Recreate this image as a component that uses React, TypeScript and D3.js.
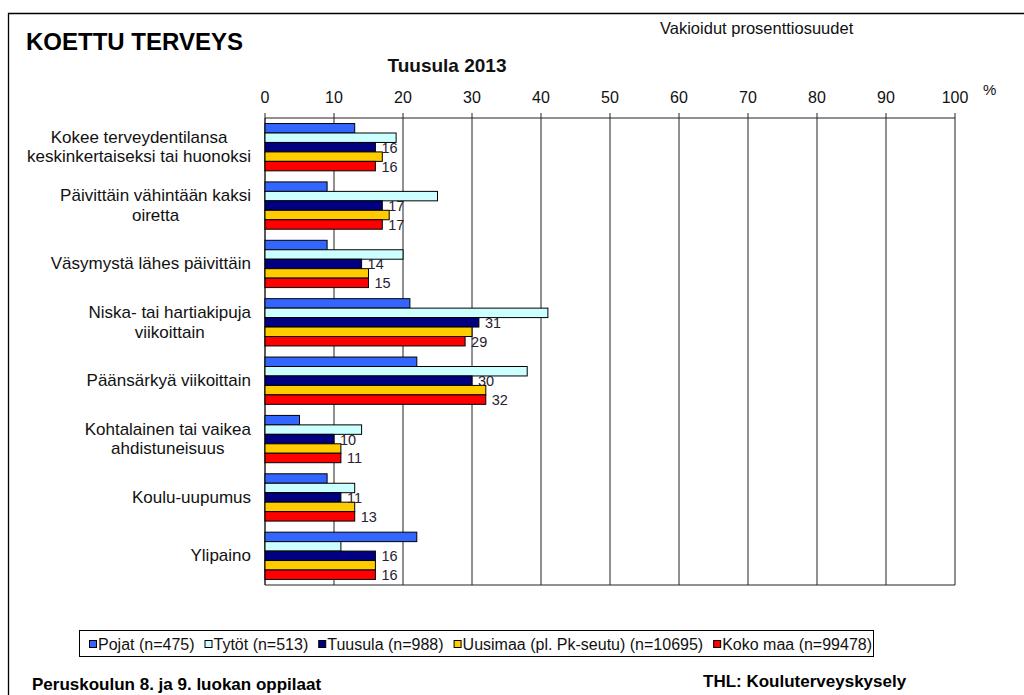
import React from 'react';
import * as d3 from 'd3';

// categories, top to bottom (lines split where the original wraps)
const categories = [
  ['Kokee terveydentilansa', 'keskinkertaiseksi tai huonoksi'],
  ['Päivittäin vähintään kaksi', 'oiretta'],
  ['Väsymystä lähes päivittäin'],
  ['Niska- tai hartiakipuja', 'viikoittain'],
  ['Päänsärkyä viikoittain'],
  ['Kohtalainen tai vaikea', 'ahdistuneisuus'],
  ['Koulu-uupumus'],
  ['Ylipaino'],
];

const seriesNames = ['Pojat (n=475)', 'Tytöt (n=513)', 'Tuusula (n=988)', 'Uusimaa (pl. Pk-seutu) (n=10695)', 'Koko maa (n=99478)'];
const seriesColors = ['#3366ff', '#ccffff', '#000080', '#ffcc00', '#ff0000'];
// which series get a value label
const labelled = [false, false, true, false, true];

const pojat = [13, 9, 9, 21, 22, 5, 9, 22];
const tytot = [19, 25, 20, 41, 38, 14, 13, 11];
const tuusula = [16, 17, 14, 31, 30, 10, 11, 16];
const uusimaa = [17, 18, 15, 30, 32, 11, 13, 16];
const kokoMaa = [16, 17, 15, 29, 32, 11, 13, 16];
const series = [pojat, tytot, tuusula, uusimaa, kokoMaa];

const xTicks = [0, 10, 20, 30, 40, 50, 60, 70, 80, 90, 100];

const FONT = '"Liberation Sans", Arial, sans-serif';

function textWidth(txt: string, size: number) {
  const c = document.createElement('canvas').getContext('2d');
  if (!c) return txt.length * size * 0.5;
  c.font = size + 'px ' + FONT;
  return c.measureText(txt).width;
}

export default function App() {
  const W = 1024, H = 695;
  const left = 265, right = 955, top = 118, bottom = 585;

  const x = d3.scaleLinear().domain([0, 100]).range([left, right]);
  const y0 = d3.scaleBand<number>()
    .domain(d3.range(categories.length))
    .range([top, bottom])
    .paddingInner(0.19)
    .paddingOuter(0.095);
  const y1 = d3.scaleBand<number>()
    .domain(d3.range(series.length))
    .range([0, y0.bandwidth()]);

  // legend layout
  const legendSize = 16;
  let lx = 89;
  const legendItems = seriesNames.map((name, i) => {
    const item = { name, color: seriesColors[i], x: lx };
    lx += 7 + 2 + textWidth(name, legendSize) + 10;
    return item;
  });

  return (
    <svg width={W} height={H} style={{ position: 'absolute', left: 0, top: 0, background: '#fff' }}
      fontFamily={FONT}>
      <rect x={0} y={0} width={W} height={H} fill="#fff" />
      {/* outer frame */}
      <path d={`M8.5,${H} V13.5 H${W}`} fill="none" stroke="#000" strokeWidth={1.3} />

      <text x={26} y={50} fontSize={24} fontWeight="bold" fill="#000">KOETTU TERVEYS</text>
      <text x={660} y={34} fontSize={16.5} fill="#111">Vakioidut prosenttiosuudet</text>
      <text x={447} y={72} fontSize={19} fontWeight="bold" textAnchor="middle" fill="#111">Tuusula 2013</text>

      {/* grid + axis */}
      {xTicks.map(t => (
        <g key={t}>
          <line x1={x(t)} x2={x(t)} y1={top - 5} y2={bottom} stroke="#222" strokeWidth={1} />
          <text x={x(t)} y={103} fontSize={16} textAnchor="middle" fill="#111">{t}</text>
        </g>
      ))}
      <text x={983} y={95} fontSize={15} fill="#111">%</text>
      <line x1={left} x2={right} y1={top} y2={top} stroke="#222" />
      <line x1={left} x2={right} y1={bottom} y2={bottom} stroke="#222" />
      <line x1={left} x2={left} y1={top} y2={bottom} stroke="#222" />

      {/* bars */}
      {categories.map((_, ci) => (
        <g key={ci} transform={`translate(0,${y0(ci)})`}>
          {series.map((vals, si) => (
            <rect key={si} x={x(0)} y={y1(si)} width={x(vals[ci]) - x(0)} height={y1.bandwidth()}
              fill={seriesColors[si]} stroke="#000" strokeWidth={1} />
          ))}
        </g>
      ))}
      {/* value labels */}
      {categories.map((_, ci) => (
        <g key={'l' + ci} transform={`translate(0,${y0(ci)})`}>
          {series.map((vals, si) => labelled[si] ? (
            <text key={si} x={x(vals[ci]) + 6} y={(y1(si) as number) + y1.bandwidth() / 2 + 0.5}
              dominantBaseline="central" fontSize={14.5} fill="#2a2030">{vals[ci]}</text>
          ) : null)}
        </g>
      ))}

      {/* category labels */}
      {categories.map((lines, ci) => {
        const cy = (y0(ci) as number) + y0.bandwidth() / 2;
        const lh = 19.5;
        const widths = lines.map(l => textWidth(l, 17));
        const blockW = Math.max(...widths);
        const cx = 251 - blockW / 2;
        return (
          <text key={'c' + ci} fontSize={17} textAnchor="middle" fill="#111">
            {lines.map((l, li) => (
              <tspan key={li} x={cx} y={cy + (li - (lines.length - 1) / 2) * lh} dominantBaseline="central">{l}</tspan>
            ))}
          </text>
        );
      })}

      {/* legend */}
      <rect x={79.5} y={630.5} width={794} height={26} fill="#fff" stroke="#000" strokeWidth={1} />
      {legendItems.map(it => (
        <g key={it.name}>
          <rect x={it.x + 0.5} y={640.5} width={7} height={7} fill={it.color} stroke="#000" strokeWidth={1} />
          <text x={it.x + 9} y={649.5} fontSize={legendSize} fill="#111">{it.name}</text>
        </g>
      ))}

      <text x={32} y={690} fontSize={17} fontWeight="bold" fill="#000">Peruskoulun 8. ja 9. luokan oppilaat</text>
      <text x={703} y={687} fontSize={17} fontWeight="bold" fill="#000">THL: Kouluterveyskysely</text>
    </svg>
  );
}
